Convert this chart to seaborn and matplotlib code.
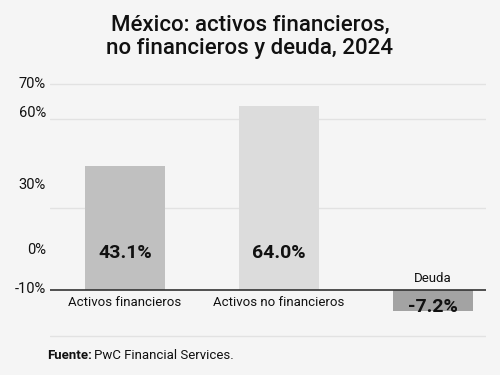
import seaborn as sns
import matplotlib.pyplot as plt
import pandas as pd

# datos
categorias = ["Activos financieros", "Activos no financieros", "Deuda"]
valores = [43.1, 64.0, -7.2]
etiquetas = ["43.1%", "64.0%", "-7.2%"]
colores = ["#c0c0c0", "#dcdcdc", "#a3a3a3"]
ticks_texto = ["70%", "60%", "30%", "0%", "-10%"]

# posiciones (en unidades del eje) de las etiquetas y líneas de la rejilla
pos_ticks = [72.5, 62.4, 37.3, 14.6, 1.0]
pos_rejilla = [71.8, 59.6, 28.6, -16.0]

sns.set_theme(style="white")
plt.rcParams["font.family"] = ["Roboto", "DejaVu Sans"]
fondo = "#f5f5f5"

df = pd.DataFrame({"cat": categorias, "valor": valores})

fig = plt.figure(figsize=(5, 3.75), dpi=100, facecolor=fondo)
ax = fig.add_axes([0.1, 0.0933, 0.872, 0.6933], facecolor=fondo)

for y in pos_rejilla:
    ax.axhline(y, color="#e2e2e2", lw=1, zorder=0)

sns.barplot(data=df, x="cat", y="valor", hue="cat", palette=colores,
            width=0.52, legend=False, ax=ax, zorder=2, linewidth=0)
ax.axhline(0, color="#333333", lw=1.2, zorder=3)

ax.set_xlim(-0.487, 2.344)
ax.set_ylim(-17.4, 73.2)
ax.set_yticks(pos_ticks)
ax.set_yticklabels(ticks_texto)
ax.tick_params(axis="y", length=0, pad=3, labelsize=10.5, labelcolor="#111111")
ax.set_xticks([])
ax.set_xlabel("")
ax.set_ylabel("")
for s in ax.spines.values():
    s.set_visible(False)

for i, (v, t) in enumerate(zip(valores, etiquetas)):
    if v > 0:
        ax.text(i, 12.8, t, ha="center", va="center", fontsize=14,
                fontweight="bold", color="#111111", zorder=4)
        ax.text(i, -4.5, categorias[i], ha="center", va="center",
                fontsize=9.5, color="#111111")
    else:
        ax.text(i, -5.8, t, ha="center", va="center", fontsize=14,
                fontweight="bold", color="#111111", zorder=4)
        ax.text(i, 4.2, categorias[i], ha="center", va="center",
                fontsize=9.5, color="#111111")

fig.text(0.5, 0.902, "México: activos financieros,\nno financieros y deuda, 2024",
         ha="center", va="center", fontsize=16, fontweight="medium",
         color="#111111", linespacing=1.1)

fig.text(0.094, 0.053, "Fuente:", fontsize=9.5, fontweight="bold",
         color="#111111", va="center")
fig.text(0.188, 0.053, "PwC Financial Services.", fontsize=9.5,
         color="#111111", va="center")

fig.savefig("out.png", dpi=100, facecolor=fondo)
